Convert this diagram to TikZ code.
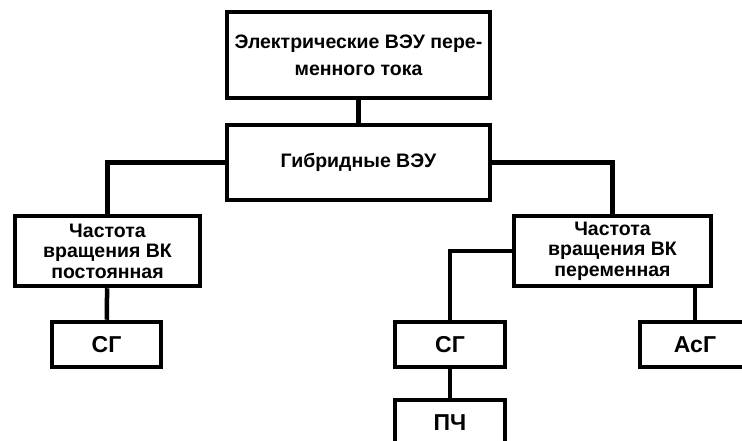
\documentclass[tikz,border=0pt]{standalone}
\usepackage{fontspec}
\setmainfont{Liberation Sans}
\usetikzlibrary{positioning,calc}

\begin{document}
\begin{tikzpicture}[
        x=1pt, y=1pt,
        box/.style={rectangle, draw=black, line width=4.5pt, align=center, inner sep=0pt, font=\bfseries\fontsize{19.5}{20.5}\selectfont},
        small/.style={box, minimum width=110, minimum height=45, font=\bfseries\fontsize{23}{24}\selectfont},
        link/.style={line width=4.5pt}
    ]
        \useasboundingbox (0,0) rectangle (742,-441);

        \node[box, minimum width=263, minimum height=86, font=\bfseries\fontsize{19.5}{27}\selectfont] (elec) at (358.5,-55) {Электрические ВЭУ пере-\\менного тока};
        \node[box, minimum width=263, minimum height=75] (hybrid) at (358.5,-162.5) {Гибридные ВЭУ};

        \node[box, minimum width=185, minimum height=70] (const) at (107.5,-251) {Частота\\вращения ВК\\постоянная};
        \node[box, minimum width=197, minimum height=70] (var) at (612.5,-251) {Частота\\вращения ВК\\переменная};

        \node[small, minimum width=109] (sgL) at (106.5,-344.5) {СГ};
        \node[small] (sgR) at (450,-344.5) {СГ};
        \node[small] (asg) at (695,-344.5) {АсГ};
        \node[small] (pch) at (450,-422.5) {ПЧ};

        \draw[link] (elec) -- (hybrid);
        \draw[link] (hybrid.west) -| (const.north);
        \draw[link] (hybrid.east) -| (var.north);
        \draw[link] (const) -- (sgL);
        \draw[link] (var.west) -| (sgR.north);
        \draw[link] (asg.north) -- (asg.north |- var.south);
        \draw[link] (sgR) -- (pch);
    \end{tikzpicture}
\end{document}
